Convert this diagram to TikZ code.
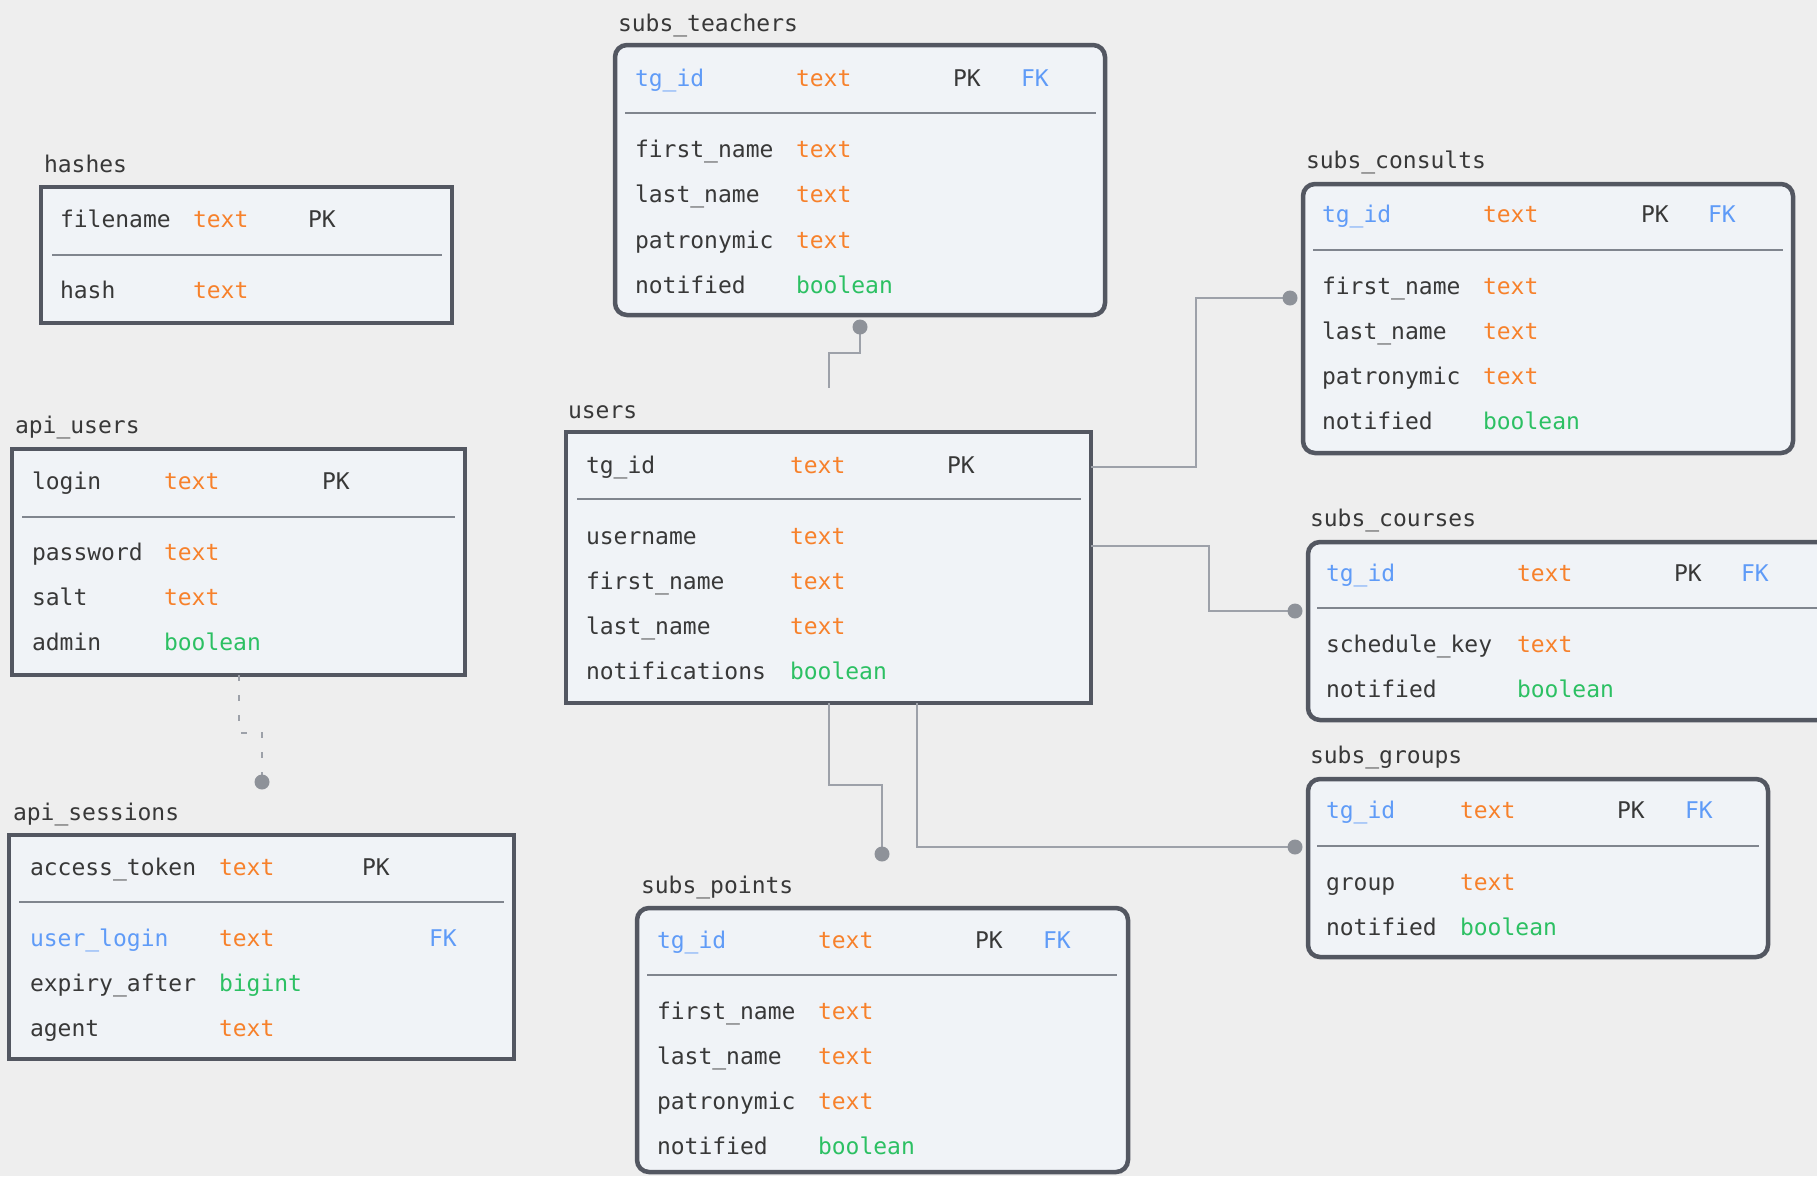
\documentclass[tikz,border=0pt]{standalone}
\usepackage{fontspec}
\setmonofont{DejaVu Sans Mono}
\newcommand\erfont{\ttfamily\fontsize{23}{27}\selectfont}
\definecolor{bgc}{HTML}{EEEEEE}
\definecolor{boxfill}{HTML}{F0F3F7}
\definecolor{boxline}{HTML}{535761}
\definecolor{divc}{HTML}{80858E}
\definecolor{namec}{HTML}{383838}
\definecolor{typeo}{HTML}{F7812B}
\definecolor{typeg}{HTML}{2CC063}
\definecolor{keyb}{HTML}{5F9BF7}
\definecolor{connc}{HTML}{9DA1A9}
\definecolor{dotc}{HTML}{8E9299}
\tikzset{
  tbl/.style={draw=boxline, fill=boxfill, line width=4.5pt, inner sep=0pt, outer sep=0pt, anchor=north west, rectangle},
  rtbl/.style={tbl, rounded corners=12pt},
  divider/.style={draw=divc, line width=2.2pt},
  lbl/.style={inner sep=0pt, outer sep=0pt, anchor=base west, font=\erfont, text=namec},
  ttext/.style={lbl, text=typeo},
  tbool/.style={lbl, text=typeg},
  tkey/.style={lbl, text=keyb},
  conn/.style={draw=connc, line width=2pt},
  dconn/.style={conn, dash pattern=on 6pt off 14pt},
  dotnode/.style={circle, fill=dotc, inner sep=0pt, minimum size=15pt}
}
\begin{document}
\begin{tikzpicture}[x=1pt,y=-1pt]
\useasboundingbox (0,0) rectangle (1817,1176);
\fill[bgc] (0,0) rectangle (1817,1176);
\clip (0,0) rectangle (1817,1176);

% ---------------- hashes
\node[tbl, minimum width=411pt, minimum height=136pt] (hashes) at (41,187) {};
\draw[divider] (52,255) -- (442,255);
\node[lbl] (ha-title) at (44,172) {hashes};
\node[lbl] (ha-1n) at (60,227) {filename};
\node[ttext] (ha-1t) at (193,227) {text};
\node[lbl] (ha-1k) at (308,227) {PK};
\node[lbl] (ha-2n) at (60,298) {hash};
\node[ttext] (ha-2t) at (193,298) {text};

% ---------------- subs_teachers
\node[rtbl, minimum width=490pt, minimum height=270pt] (teachers) at (615,45) {};
\draw[divider] (625,113) -- (1096,113);
\node[lbl] (te-title) at (618,31) {subs\_teachers};
\node[tkey] (te-1n) at (635,86) {tg\_id};
\node[ttext] (te-1t) at (796,86) {text};
\node[lbl] (te-1k) at (953,86) {PK};
\node[tkey] (te-1f) at (1021,86) {FK};
\node[lbl] (te-2n) at (635,157) {first\_name};
\node[ttext] (te-2t) at (796,157) {text};
\node[lbl] (te-3n) at (635,202) {last\_name};
\node[ttext] (te-3t) at (796,202) {text};
\node[lbl] (te-4n) at (635,248) {patronymic};
\node[ttext] (te-4t) at (796,248) {text};
\node[lbl] (te-5n) at (635,293) {notified};
\node[tbool] (te-5t) at (796,293) {boolean};

% ---------------- subs_consults
\node[rtbl, minimum width=490pt, minimum height=269pt] (consults) at (1303,184) {};
\draw[divider] (1313,250) -- (1783,250);
\node[lbl] (co-title) at (1306,168) {subs\_consults};
\node[tkey] (co-1n) at (1322,222) {tg\_id};
\node[ttext] (co-1t) at (1483,222) {text};
\node[lbl] (co-1k) at (1641,222) {PK};
\node[tkey] (co-1f) at (1708,222) {FK};
\node[lbl] (co-2n) at (1322,294) {first\_name};
\node[ttext] (co-2t) at (1483,294) {text};
\node[lbl] (co-3n) at (1322,339) {last\_name};
\node[ttext] (co-3t) at (1483,339) {text};
\node[lbl] (co-4n) at (1322,384) {patronymic};
\node[ttext] (co-4t) at (1483,384) {text};
\node[lbl] (co-5n) at (1322,429) {notified};
\node[tbool] (co-5t) at (1483,429) {boolean};

% ---------------- users
\node[tbl, minimum width=525pt, minimum height=271pt] (users) at (566,432) {};
\draw[divider] (577,499) -- (1081,499);
\node[lbl] (us-title) at (568,418) {users};
\node[lbl] (us-1n) at (586,473) {tg\_id};
\node[ttext] (us-1t) at (790,473) {text};
\node[lbl] (us-1k) at (947,473) {PK};
\node[lbl] (us-2n) at (586,544) {username};
\node[ttext] (us-2t) at (790,544) {text};
\node[lbl] (us-3n) at (586,589) {first\_name};
\node[ttext] (us-3t) at (790,589) {text};
\node[lbl] (us-4n) at (586,634) {last\_name};
\node[ttext] (us-4t) at (790,634) {text};
\node[lbl] (us-5n) at (586,679) {notifications};
\node[tbool] (us-5t) at (790,679) {boolean};

% ---------------- subs_courses
\node[rtbl, minimum width=530pt, minimum height=178pt] (courses) at (1308,542) {};
\draw[divider] (1317,608) -- (1840,608);
\node[lbl] (cu-title) at (1310,526) {subs\_courses};
\node[tkey] (cu-1n) at (1326,581) {tg\_id};
\node[ttext] (cu-1t) at (1517,581) {text};
\node[lbl] (cu-1k) at (1674,581) {PK};
\node[tkey] (cu-1f) at (1741,581) {FK};
\node[lbl] (cu-2n) at (1326,652) {schedule\_key};
\node[ttext] (cu-2t) at (1517,652) {text};
\node[lbl] (cu-3n) at (1326,697) {notified};
\node[tbool] (cu-3t) at (1517,697) {boolean};

% ---------------- subs_groups
\node[rtbl, minimum width=460pt, minimum height=178pt] (groups) at (1308,779) {};
\draw[divider] (1317,846) -- (1759,846);
\node[lbl] (gr-title) at (1310,763) {subs\_groups};
\node[tkey] (gr-1n) at (1326,818) {tg\_id};
\node[ttext] (gr-1t) at (1460,818) {text};
\node[lbl] (gr-1k) at (1617,818) {PK};
\node[tkey] (gr-1f) at (1685,818) {FK};
\node[lbl] (gr-2n) at (1326,890) {group};
\node[ttext] (gr-2t) at (1460,890) {text};
\node[lbl] (gr-3n) at (1326,935) {notified};
\node[tbool] (gr-3t) at (1460,935) {boolean};

% ---------------- api_users
\node[tbl, minimum width=453pt, minimum height=226pt] (apiusers) at (12,449) {};
\draw[divider] (22,517) -- (455,517);
\node[lbl] (au-title) at (15,433) {api\_users};
\node[lbl] (au-1n) at (32,489) {login};
\node[ttext] (au-1t) at (164,489) {text};
\node[lbl] (au-1k) at (322,489) {PK};
\node[lbl] (au-2n) at (32,560) {password};
\node[ttext] (au-2t) at (164,560) {text};
\node[lbl] (au-3n) at (32,605) {salt};
\node[ttext] (au-3t) at (164,605) {text};
\node[lbl] (au-4n) at (32,650) {admin};
\node[tbool] (au-4t) at (164,650) {boolean};

% ---------------- api_sessions
\node[tbl, minimum width=505pt, minimum height=224pt] (apisessions) at (9,835) {};
\draw[divider] (19,902) -- (504,902);
\node[lbl] (as-title) at (13,820) {api\_sessions};
\node[lbl] (as-1n) at (30,875) {access\_token};
\node[ttext] (as-1t) at (219,875) {text};
\node[lbl] (as-1k) at (362,875) {PK};
\node[tkey] (as-2n) at (30,946) {user\_login};
\node[ttext] (as-2t) at (219,946) {text};
\node[tkey] (as-2f) at (429,946) {FK};
\node[lbl] (as-3n) at (30,991) {expiry\_after};
\node[tbool] (as-3t) at (219,991) {bigint};
\node[lbl] (as-4n) at (30,1036) {agent};
\node[ttext] (as-4t) at (219,1036) {text};

% ---------------- subs_points
\node[rtbl, minimum width=491pt, minimum height=264pt] (points) at (637,908) {};
\draw[divider] (647,975) -- (1117,975);
\node[lbl] (po-title) at (641,893) {subs\_points};
\node[tkey] (po-1n) at (657,948) {tg\_id};
\node[ttext] (po-1t) at (818,948) {text};
\node[lbl] (po-1k) at (975,948) {PK};
\node[tkey] (po-1f) at (1043,948) {FK};
\node[lbl] (po-2n) at (657,1019) {first\_name};
\node[ttext] (po-2t) at (818,1019) {text};
\node[lbl] (po-3n) at (657,1064) {last\_name};
\node[ttext] (po-3t) at (818,1064) {text};
\node[lbl] (po-4n) at (657,1109) {patronymic};
\node[ttext] (po-4t) at (818,1109) {text};
\node[lbl] (po-5n) at (657,1154) {notified};
\node[tbool] (po-5t) at (818,1154) {boolean};

% ---------------- connectors
\coordinate (e1) at (828.5,388);
\coordinate (c1) at (860,327);
\coordinate (c2) at (1290,298);
\coordinate (c3) at (1295,611);
\coordinate (c4) at (1295,847);
\coordinate (c5) at (882,854);
\coordinate (c6) at (262,782);

\draw[conn] (c1) -- ++(0,26) -| (e1);
\draw[conn] (users.east |- 0,467) -| (1196,298) -- (c2);
\draw[conn] (users.east |- 0,546) -| (1209,611) -- (c3);
\draw[conn] (users.south -| 917,0) |- (c4);
\draw[conn] (users.south -| 828.5,0) -- (828.5,784.5) -| (c5);
\draw[dconn] (apiusers.south -| 239,0) -- (239,733) -| (c6);

\node[dotnode] (d1) at (c1) {};
\node[dotnode] (d2) at (c2) {};
\node[dotnode] (d3) at (c3) {};
\node[dotnode] (d4) at (c4) {};
\node[dotnode] (d5) at (c5) {};
\node[dotnode] (d6) at (c6) {};
\end{tikzpicture}
\end{document}
